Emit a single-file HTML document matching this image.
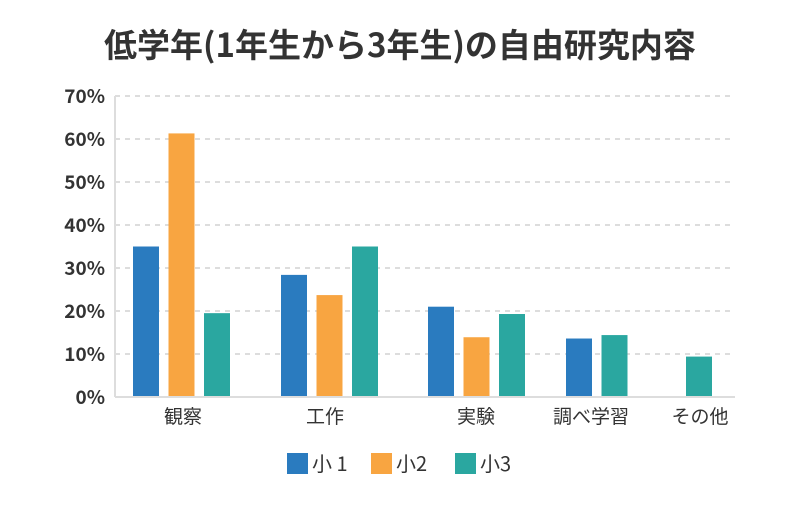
<!DOCTYPE html>
<html><head><meta charset="utf-8"><style>
body{margin:0;background:#fff;width:800px;height:500px;overflow:hidden;font-family:"Noto Sans CJK JP","Liberation Sans",sans-serif}
</style></head><body>
<svg id="chart" width="800" height="500" font-family="Noto Sans CJK JP, Liberation Sans, sans-serif">
<text x="400" y="57" text-anchor="middle" font-size="33" font-weight="bold" fill="#333">低学年(1年生から3年生)の自由研究内容</text>
<g id="grid"></g><g id="bars"></g><g id="xlabels"></g>
<line x1="115" y1="96" x2="115" y2="397" stroke="#ddd" stroke-width="2"/>
<line x1="115" y1="397" x2="735" y2="397" stroke="#ddd" stroke-width="2"/>
<g font-size="20" fill="#333">
<g><rect x="287" y="453" width="21" height="21" fill="#2a7bbf"/><text x="312" y="471">小 1</text></g>
<g><rect x="371" y="453" width="21" height="21" fill="#f8a541"/><text x="396" y="471">小2</text></g>
<g><rect x="455" y="453" width="21" height="21" fill="#2aa7a0"/><text x="480" y="471">小3</text></g>
</g>
</svg>
<script>
const categories=["観察","工作","実験","調べ学習","その他"];
const s1=[35.0,28.4,21.0,13.6,0];
const s2=[61.3,23.7,13.9,0,0];
const s3=[19.5,35.0,19.3,14.4,9.4];
const yTicks=[0,10,20,30,40,50,60,70];
const tickLabels=["0%","10%","20%","30%","40%","50%","60%","70%"];
const colors=["#2a7bbf","#f8a541","#2aa7a0"];
const bandStart=[133,281,428,566,686];
const labelX=[183,325,476,591,700];
const NS="http://www.w3.org/2000/svg";
function y(v){return 397-v*4.3;}
const grid=document.getElementById('grid');
yTicks.forEach((t,i)=>{
  if(t>0){const l=document.createElementNS(NS,'line');
  l.setAttribute('x1',115);l.setAttribute('x2',735);l.setAttribute('y1',y(t));l.setAttribute('y2',y(t));
  l.setAttribute('stroke','#ddd');l.setAttribute('stroke-width','2');l.setAttribute('stroke-dasharray','5,5');
  
  
  grid.appendChild(l);}
  const tx=document.createElementNS(NS,'text');
  tx.setAttribute('x',105);tx.setAttribute('y',y(t)+7);tx.setAttribute('text-anchor','end');
  tx.setAttribute('font-size','19');tx.setAttribute('font-weight','bold');tx.setAttribute('fill','#333');
  tx.textContent=tickLabels[i];
  
  
  grid.appendChild(tx);
});
const bars=document.getElementById('bars');
const series=[s1,s2,s3];
categories.forEach((c,i)=>{
  let slot=0;
  series.forEach((s,j)=>{
    const v=s[i]; if(!v) return;
    const r=document.createElementNS(NS,'rect');
    r.setAttribute('x',bandStart[i]+slot*35.5);r.setAttribute('width',26);
    r.setAttribute('y',y(v));r.setAttribute('height',397-y(v));
    r.setAttribute('fill',colors[j]);
    
    
    bars.appendChild(r);slot++;
  });
  const tx=document.createElementNS(NS,'text');
  tx.setAttribute('x',labelX[i]);tx.setAttribute('y',423);tx.setAttribute('text-anchor','middle');
  tx.setAttribute('font-size','19');tx.setAttribute('fill','#333');
  tx.textContent=c;
  
  
  document.getElementById('xlabels').appendChild(tx);
});
</script>
</body></html>
